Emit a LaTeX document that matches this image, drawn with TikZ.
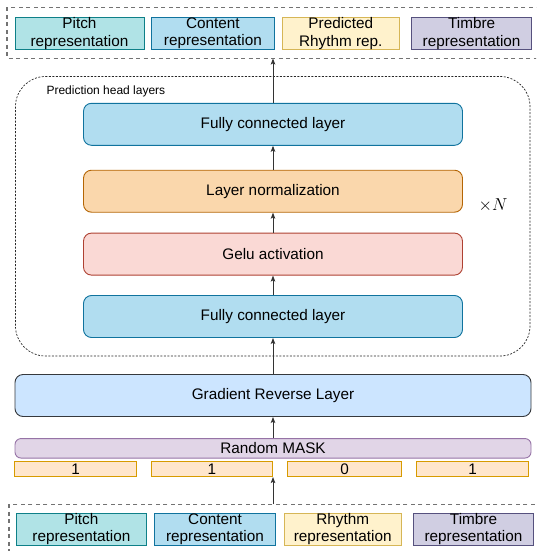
\documentclass[tikz,border=0pt]{standalone}
\usepackage{fontspec}
\setmainfont{Liberation Sans}
\usetikzlibrary{positioning,arrows.meta}

\definecolor{pitchfill}{HTML}{B0E3E6}
\definecolor{pitchline}{HTML}{0E8088}
\definecolor{contfill}{HTML}{B1DDF0}
\definecolor{contline}{HTML}{10739E}
\definecolor{rhyfill}{HTML}{FFF2CC}
\definecolor{rhyline}{HTML}{D6B656}
\definecolor{timfill}{HTML}{D0CEE2}
\definecolor{timline}{HTML}{56517E}
\definecolor{normfill}{HTML}{FAD7AC}
\definecolor{normline}{HTML}{B46504}
\definecolor{gelufill}{HTML}{FAD9D5}
\definecolor{geluline}{HTML}{AE4132}
\definecolor{grlfill}{HTML}{CCE5FF}
\definecolor{grlline}{HTML}{36393D}
\definecolor{maskfill}{HTML}{E1D5E7}
\definecolor{maskline}{HTML}{9673A6}
\definecolor{bitfill}{HTML}{FFE6CC}
\definecolor{bitline}{HTML}{D79B00}

\tikzset{
  txt/.style={font=\fontsize{15.3}{17.5}\selectfont},
  box/.style={txt, draw, line width=0.9pt, inner sep=0pt, align=center},
  repbox/.style={box, minimum height=32pt},
  layerbox/.style={box, rounded corners=8pt, minimum width=379pt, minimum height=42pt},
  bitbox/.style={box, fill=bitfill, draw=bitline, minimum height=15pt},
  outerdash/.style={draw=black!55, line width=1.2pt, dash pattern=on 4pt off 3.5pt},
  headdash/.style={draw=black!85, line width=0.7pt, dash pattern=on 2pt off 1.5pt},
  flow/.style={->, draw=black!80, line width=0.9pt},
}

\begin{document}
\begin{tikzpicture}[x=1pt, y=-1pt, node distance=20pt,
  >={Stealth[length=6pt, width=4.5pt, inset=1.2pt]}]
\useasboundingbox (0,0) rectangle (536,551);
\clip (0,0) rectangle (536,551);

% predicted representations
\draw[outerdash] (7,7.5) rectangle (545,58.5);
\node[repbox, fill=pitchfill, draw=pitchline, minimum width=129pt] (pitchout) at (79.5,33.3) {Pitch\\representation};
\node[repbox, fill=contfill, draw=contline, minimum width=122.3pt] (contout) at (212.9,33.3) {Content\\representation};
\node[repbox, fill=rhyfill, draw=rhyline, minimum width=117pt] (rhyout) at (340.8,33.3) {Predicted\\Rhythm rep.};
\node[repbox, fill=timfill, draw=timline, minimum width=119.8pt] (timout) at (471.6,33.3) {Timbre\\representation};
\coordinate (outtop) at (273,58.5);

% prediction head
\draw[headdash, rounded corners=30pt] (15.5,76.5) rectangle (530,356);
\node[font=\fontsize{12}{14}\selectfont, anchor=west] (headlabel) at (43,91) {Prediction head layers};
\node[layerbox, fill=contfill, draw=contline] (fcb) at (273,316.5) {Fully connected layer};
\node[layerbox, fill=gelufill, draw=geluline, above=19.5pt of fcb] (gelu) {Gelu activation};
\node[layerbox, fill=normfill, draw=normline, above=20pt of gelu] (norm) {Layer normalization};
\node[layerbox, fill=contfill, draw=contline, above=24pt of norm] (fca) {Fully connected layer};
\node[font=\fontsize{17}{20}\selectfont] (times) at (493,205) {$\times N$};

% gradient reverse and mask
\node[box, rounded corners=8pt, fill=grlfill, draw=grlline, minimum width=516pt, minimum height=42pt] (grl) at (273,395.5) {Gradient Reverse Layer};
\node[box, rounded corners=6pt, fill=maskfill, draw=maskline, minimum width=516pt, minimum height=19.5pt] (mask) at (273,448.3) {Random MASK};
\node[bitbox, minimum width=122.2pt] (bita) at (75.6,469.2) {1};
\node[bitbox, minimum width=120.6pt] (bitb) at (212,469.2) {1};
\node[bitbox, minimum width=114.4pt] (bitc) at (344.5,469.2) {0};
\node[bitbox, minimum width=112pt] (bitd) at (472.7,469.2) {1};
\coordinate (maskin) at (273,477);

% input representations
\draw[outerdash] (9,504.3) rectangle (545,565);
\coordinate (inbot) at (273,504.3);
\node[repbox, fill=pitchfill, draw=pitchline, minimum width=129.3pt, minimum height=31.7pt] (pitchin) at (81.4,529.2) {Pitch\\representation};
\node[repbox, fill=contfill, draw=contline, minimum width=121.4pt, minimum height=31.7pt] (contin) at (215,529.2) {Content\\representation};
\node[repbox, fill=rhyfill, draw=rhyline, minimum width=116.7pt, minimum height=31.7pt] (rhyin) at (342.7,529.2) {Rhythm\\representation};
\node[repbox, fill=timfill, draw=timline, minimum width=120.4pt, minimum height=31.7pt] (timin) at (473.5,529.2) {Timbre\\representation};

% connections
\draw[flow] (inbot) -- (maskin);
\draw[flow] (mask) -- (grl);
\draw[flow] (grl) -- (fcb);
\draw[flow] (fcb) -- (gelu);
\draw[flow] (gelu) -- (norm);
\draw[flow] (norm) -- (fca);
\draw[flow] (fca) -- (outtop);
\end{tikzpicture}
\end{document}
